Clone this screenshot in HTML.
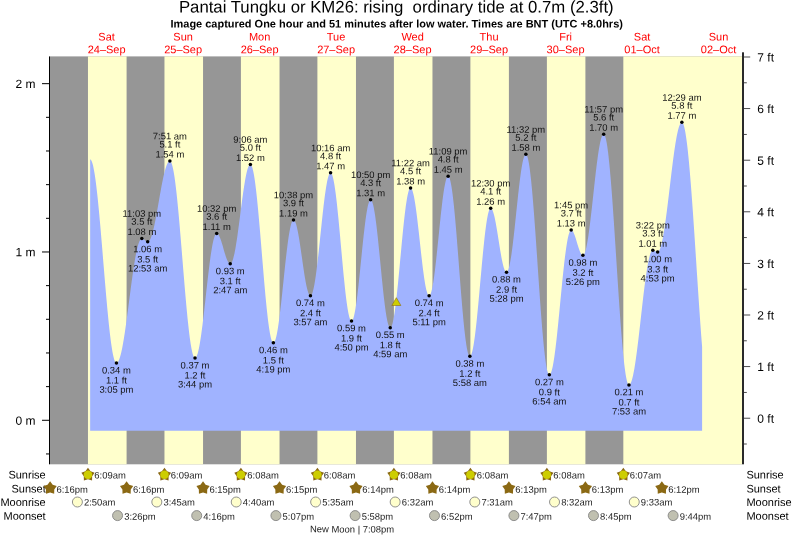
<!DOCTYPE html><html><head><meta charset="utf-8"><title>Pantai Tungku or KM26 tide times</title>
<style>html,body{margin:0;padding:0;background:#fff}svg{display:block;will-change:transform;opacity:0.999}text{text-rendering:geometricPrecision;font-family:"Liberation Sans",sans-serif;fill:#000}.t{font-size:9.45px;text-anchor:middle;fill:#111}.s{font-size:9.45px;fill:#222}.d{font-size:11px;fill:#ff0000;text-anchor:middle}.ax{font-size:12px}.r{font-size:11px}</style></head><body>
<svg width="793" height="538" viewBox="0 0 793 538">
<rect width="793" height="538" fill="#fff"/>
<rect x="50" y="56.4" width="692" height="407.90000000000003" fill="#969696"/>
<rect x="87.97" y="56.4" width="38.62" height="407.90000000000003" fill="#ffffcc"/>
<rect x="164.47" y="56.4" width="38.57" height="407.90000000000003" fill="#ffffcc"/>
<rect x="240.91" y="56.4" width="38.62" height="407.90000000000003" fill="#ffffcc"/>
<rect x="317.40" y="56.4" width="38.57" height="407.90000000000003" fill="#ffffcc"/>
<rect x="393.90" y="56.4" width="38.57" height="407.90000000000003" fill="#ffffcc"/>
<rect x="470.39" y="56.4" width="38.51" height="407.90000000000003" fill="#ffffcc"/>
<rect x="546.89" y="56.4" width="38.51" height="407.90000000000003" fill="#ffffcc"/>
<rect x="623.33" y="56.4" width="118.67" height="407.90000000000003" fill="#ffffcc"/>
<path d="M90.15,430.7L90.15,159.40L90.59,159.57L91.02,160.02L91.46,160.74L91.90,161.74L92.33,163.01L92.77,164.54L93.21,166.33L93.65,168.39L94.08,170.69L94.52,173.24L94.96,176.03L95.39,179.05L95.83,182.30L96.27,185.76L96.70,189.42L97.14,193.28L97.58,197.32L98.02,201.54L98.45,205.91L98.89,210.44L99.33,215.11L99.76,219.90L100.20,224.81L100.64,229.81L101.08,234.90L101.51,240.06L101.95,245.27L102.39,250.53L102.82,255.82L103.26,261.13L103.70,266.43L104.14,271.72L104.57,276.98L105.01,282.20L105.45,287.36L105.88,292.46L106.32,297.46L106.76,302.37L107.20,307.17L107.63,311.84L108.07,316.37L108.51,320.76L108.94,324.98L109.38,329.03L109.82,332.89L110.26,336.56L110.69,340.03L111.13,343.28L111.57,346.31L112.00,349.11L112.44,351.67L112.88,353.98L113.32,356.05L113.75,357.85L114.19,359.39L114.63,360.67L115.06,361.68L115.50,362.41L115.94,362.87L116.37,363.05L116.81,362.99L117.25,362.75L117.69,362.32L118.12,361.72L118.56,360.93L119.00,359.97L119.43,358.84L119.87,357.54L120.31,356.07L120.75,354.44L121.18,352.66L121.62,350.72L122.06,348.63L122.49,346.41L122.93,344.05L123.37,341.57L123.81,338.97L124.24,336.25L124.68,333.43L125.12,330.52L125.55,327.52L125.99,324.44L126.43,321.29L126.87,318.08L127.30,314.82L127.74,311.52L128.18,308.19L128.61,304.84L129.05,301.47L129.49,298.10L129.93,294.74L130.36,291.40L130.80,288.09L131.24,284.81L131.67,281.58L132.11,278.41L132.55,275.30L132.99,272.26L133.42,269.31L133.86,266.45L134.30,263.70L134.73,261.05L135.17,258.51L135.61,256.10L136.05,253.82L136.48,251.68L136.92,249.68L137.36,247.83L137.79,246.14L138.23,244.60L138.67,243.23L139.10,242.03L139.54,241.00L139.98,240.14L140.42,239.46L140.85,238.97L141.29,238.65L141.73,238.51L142.16,238.53L142.60,238.65L143.04,238.84L143.48,239.12L143.91,239.45L144.35,239.82L144.79,240.21L145.22,240.61L145.66,240.97L146.10,241.30L146.54,241.56L146.97,241.75L147.41,241.85L147.85,241.86L148.28,241.72L148.72,241.43L149.16,240.99L149.60,240.40L150.03,239.65L150.47,238.77L150.91,237.73L151.34,236.57L151.78,235.26L152.22,233.83L152.66,232.27L153.09,230.60L153.53,228.81L153.97,226.92L154.40,224.93L154.84,222.86L155.28,220.70L155.72,218.46L156.15,216.17L156.59,213.81L157.03,211.41L157.46,208.97L157.90,206.50L158.34,204.02L158.78,201.52L159.21,199.02L159.65,196.54L160.09,194.07L160.52,191.63L160.96,189.23L161.40,186.87L161.83,184.57L162.27,182.34L162.71,180.17L163.15,178.09L163.58,176.10L164.02,174.21L164.46,172.42L164.89,170.74L165.33,169.18L165.77,167.74L166.21,166.43L166.64,165.26L167.08,164.22L167.52,163.33L167.95,162.58L168.39,161.98L168.83,161.53L169.27,161.24L169.70,161.10L170.14,161.13L170.58,161.45L171.01,162.06L171.45,162.96L171.89,164.15L172.33,165.63L172.76,167.39L173.20,169.42L173.64,171.72L174.07,174.28L174.51,177.10L174.95,180.16L175.39,183.46L175.82,186.99L176.26,190.73L176.70,194.68L177.13,198.83L177.57,203.15L178.01,207.64L178.45,212.29L178.88,217.08L179.32,222.00L179.76,227.03L180.19,232.15L180.63,237.36L181.07,242.63L181.51,247.96L181.94,253.31L182.38,258.69L182.82,264.07L183.25,269.44L183.69,274.77L184.13,280.06L184.56,285.29L185.00,290.45L185.44,295.51L185.88,300.46L186.31,305.29L186.75,309.99L187.19,314.53L187.62,318.91L188.06,323.11L188.50,327.12L188.94,330.94L189.37,334.53L189.81,337.91L190.25,341.05L190.68,343.94L191.12,346.59L191.56,348.97L192.00,351.09L192.43,352.93L192.87,354.50L193.31,355.78L193.74,356.77L194.18,357.48L194.62,357.89L195.06,358.00L195.49,357.85L195.93,357.45L196.37,356.81L196.80,355.92L197.24,354.78L197.68,353.41L198.12,351.81L198.55,349.98L198.99,347.94L199.43,345.68L199.86,343.23L200.30,340.58L200.74,337.76L201.18,334.76L201.61,331.61L202.05,328.32L202.49,324.89L202.92,321.35L203.36,317.70L203.80,313.97L204.23,310.16L204.67,306.30L205.11,302.39L205.55,298.46L205.98,294.51L206.42,290.57L206.86,286.65L207.29,282.77L207.73,278.94L208.17,275.18L208.61,271.50L209.04,267.91L209.48,264.44L209.92,261.09L210.35,257.89L210.79,254.83L211.23,251.94L211.67,249.22L212.10,246.70L212.54,244.36L212.98,242.24L213.41,240.33L213.85,238.64L214.29,237.18L214.73,235.95L215.16,234.97L215.60,234.23L216.04,233.73L216.47,233.49L216.91,233.48L217.35,233.63L217.79,233.95L218.22,234.41L218.66,235.02L219.10,235.76L219.53,236.64L219.97,237.65L220.41,238.76L220.85,239.98L221.28,241.28L221.72,242.66L222.16,244.10L222.59,245.59L223.03,247.10L223.47,248.64L223.91,250.17L224.34,251.69L224.78,253.17L225.22,254.61L225.65,255.99L226.09,257.29L226.53,258.50L226.96,259.61L227.40,260.61L227.84,261.48L228.28,262.22L228.71,262.82L229.15,263.28L229.59,263.58L230.02,263.73L230.46,263.72L230.90,263.48L231.34,263.02L231.77,262.32L232.21,261.40L232.65,260.26L233.08,258.91L233.52,257.35L233.96,255.59L234.40,253.63L234.83,251.49L235.27,249.18L235.71,246.70L236.14,244.07L236.58,241.31L237.02,238.41L237.46,235.41L237.89,232.30L238.33,229.11L238.77,225.85L239.20,222.53L239.64,219.18L240.08,215.80L240.52,212.41L240.95,209.04L241.39,205.68L241.83,202.37L242.26,199.11L242.70,195.91L243.14,192.81L243.58,189.80L244.01,186.91L244.45,184.14L244.89,181.51L245.32,179.03L245.76,176.72L246.20,174.58L246.64,172.62L247.07,170.86L247.51,169.30L247.95,167.94L248.38,166.80L248.82,165.88L249.26,165.19L249.69,164.72L250.13,164.48L250.57,164.48L251.01,164.79L251.44,165.42L251.88,166.35L252.32,167.60L252.75,169.16L253.19,171.02L253.63,173.17L254.07,175.61L254.50,178.33L254.94,181.31L255.38,184.55L255.81,188.04L256.25,191.77L256.69,195.71L257.13,199.86L257.56,204.20L258.00,208.72L258.44,213.40L258.87,218.22L259.31,223.17L259.75,228.22L260.19,233.37L260.62,238.59L261.06,243.86L261.50,249.17L261.93,254.49L262.37,259.81L262.81,265.11L263.25,270.37L263.68,275.57L264.12,280.69L264.56,285.71L264.99,290.62L265.43,295.40L265.87,300.03L266.31,304.49L266.74,308.78L267.18,312.86L267.62,316.74L268.05,320.39L268.49,323.80L268.93,326.96L269.36,329.87L269.80,332.50L270.24,334.85L270.68,336.91L271.11,338.67L271.55,340.13L271.99,341.28L272.42,342.12L272.86,342.65L273.30,342.85L273.74,342.75L274.17,342.37L274.61,341.70L275.05,340.75L275.48,339.53L275.92,338.04L276.36,336.28L276.80,334.27L277.23,332.01L277.67,329.51L278.11,326.80L278.54,323.87L278.98,320.74L279.42,317.44L279.86,313.96L280.29,310.33L280.73,306.57L281.17,302.69L281.60,298.71L282.04,294.66L282.48,290.54L282.92,286.37L283.35,282.19L283.79,278.00L284.23,273.83L284.66,269.69L285.10,265.61L285.54,261.60L285.98,257.68L286.41,253.88L286.85,250.20L287.29,246.67L287.72,243.29L288.16,240.10L288.60,237.10L289.04,234.30L289.47,231.72L289.91,229.38L290.35,227.28L290.78,225.42L291.22,223.83L291.66,222.51L292.09,221.46L292.53,220.69L292.97,220.20L293.41,220.00L293.84,220.07L294.28,220.39L294.72,220.95L295.15,221.76L295.59,222.81L296.03,224.08L296.47,225.58L296.90,227.29L297.34,229.19L297.78,231.29L298.21,233.56L298.65,235.99L299.09,238.57L299.53,241.27L299.96,244.08L300.40,246.98L300.84,249.95L301.27,252.98L301.71,256.03L302.15,259.10L302.59,262.16L303.02,265.19L303.46,268.18L303.90,271.09L304.33,273.92L304.77,276.64L305.21,279.24L305.65,281.70L306.08,284.01L306.52,286.14L306.96,288.09L307.39,289.83L307.83,291.37L308.27,292.69L308.71,293.78L309.14,294.63L309.58,295.24L310.02,295.61L310.45,295.73L310.89,295.58L311.33,295.15L311.77,294.43L312.20,293.44L312.64,292.16L313.08,290.62L313.51,288.82L313.95,286.77L314.39,284.47L314.82,281.93L315.26,279.18L315.70,276.21L316.14,273.06L316.57,269.72L317.01,266.21L317.45,262.56L317.88,258.78L318.32,254.88L318.76,250.89L319.20,246.82L319.63,242.69L320.07,238.52L320.51,234.34L320.94,230.15L321.38,225.98L321.82,221.85L322.26,217.78L322.69,213.79L323.13,209.89L323.57,206.10L324.00,202.45L324.44,198.94L324.88,195.60L325.32,192.44L325.75,189.47L326.19,186.71L326.63,184.17L327.06,181.87L327.50,179.81L327.94,178.00L328.38,176.46L328.81,175.18L329.25,174.18L329.69,173.46L330.12,173.02L330.56,172.86L331.00,173.01L331.44,173.48L331.87,174.26L332.31,175.35L332.75,176.75L333.18,178.46L333.62,180.46L334.06,182.74L334.50,185.30L334.93,188.13L335.37,191.21L335.81,194.52L336.24,198.07L336.68,201.82L337.12,205.77L337.55,209.90L337.99,214.18L338.43,218.61L338.87,223.15L339.30,227.80L339.74,232.54L340.18,237.33L340.61,242.16L341.05,247.02L341.49,251.88L341.93,256.71L342.36,261.50L342.80,266.23L343.24,270.88L343.67,275.42L344.11,279.84L344.55,284.12L344.99,288.24L345.42,292.18L345.86,295.92L346.30,299.46L346.73,302.77L347.17,305.84L347.61,308.65L348.05,311.20L348.48,313.47L348.92,315.46L349.36,317.15L349.79,318.54L350.23,319.62L350.67,320.39L351.11,320.84L351.54,320.98L351.98,320.80L352.42,320.30L352.85,319.50L353.29,318.40L353.73,316.99L354.17,315.29L354.60,313.31L355.04,311.06L355.48,308.55L355.91,305.79L356.35,302.79L356.79,299.58L357.22,296.16L357.66,292.56L358.10,288.79L358.54,284.88L358.97,280.84L359.41,276.70L359.85,272.47L360.28,268.18L360.72,263.85L361.16,259.50L361.60,255.15L362.03,250.83L362.47,246.57L362.91,242.37L363.34,238.26L363.78,234.27L364.22,230.42L364.66,226.72L365.09,223.19L365.53,219.85L365.97,216.73L366.40,213.83L366.84,211.16L367.28,208.76L367.72,206.61L368.15,204.75L368.59,203.17L369.03,201.89L369.46,200.90L369.90,200.23L370.34,199.86L370.78,199.81L371.21,200.07L371.65,200.64L372.09,201.53L372.52,202.71L372.96,204.20L373.40,205.98L373.84,208.04L374.27,210.38L374.71,212.98L375.15,215.82L375.58,218.90L376.02,222.21L376.46,225.71L376.90,229.40L377.33,233.26L377.77,237.27L378.21,241.42L378.64,245.67L379.08,250.00L379.52,254.41L379.95,258.86L380.39,263.34L380.83,267.82L381.27,272.27L381.70,276.69L382.14,281.04L382.58,285.31L383.01,289.47L383.45,293.51L383.89,297.40L384.33,301.12L384.76,304.66L385.20,308.01L385.64,311.13L386.07,314.02L386.51,316.67L386.95,319.05L387.39,321.16L387.82,323.00L388.26,324.54L388.70,325.78L389.13,326.72L389.57,327.35L390.01,327.67L390.45,327.67L390.88,327.36L391.32,326.73L391.76,325.79L392.19,324.53L392.63,322.98L393.07,321.12L393.51,318.98L393.94,316.56L394.38,313.88L394.82,310.93L395.25,307.75L395.69,304.34L396.13,300.72L396.57,296.90L397.00,292.90L397.44,288.75L397.88,284.45L398.31,280.04L398.75,275.52L399.19,270.92L399.63,266.26L400.06,261.57L400.50,256.86L400.94,252.15L401.37,247.47L401.81,242.83L402.25,238.26L402.68,233.79L403.12,229.42L403.56,225.18L404.00,221.09L404.43,217.17L404.87,213.44L405.31,209.90L405.74,206.59L406.18,203.50L406.62,200.67L407.06,198.09L407.49,195.79L407.93,193.77L408.37,192.05L408.80,190.62L409.24,189.50L409.68,188.69L410.12,188.19L410.55,188.01L410.99,188.14L411.43,188.57L411.86,189.28L412.30,190.29L412.74,191.58L413.18,193.14L413.61,194.97L414.05,197.06L414.49,199.40L414.92,201.96L415.36,204.75L415.80,207.74L416.24,210.92L416.67,214.26L417.11,217.76L417.55,221.39L417.98,225.13L418.42,228.97L418.86,232.87L419.30,236.83L419.73,240.81L420.17,244.80L420.61,248.77L421.04,252.70L421.48,256.58L421.92,260.37L422.35,264.06L422.79,267.64L423.23,271.07L423.67,274.33L424.10,277.43L424.54,280.32L424.98,283.01L425.41,285.47L425.85,287.69L426.29,289.66L426.73,291.37L427.16,292.80L427.60,293.96L428.04,294.83L428.47,295.41L428.91,295.70L429.35,295.69L429.79,295.37L430.22,294.74L430.66,293.80L431.10,292.57L431.53,291.03L431.97,289.22L432.41,287.12L432.85,284.76L433.28,282.14L433.72,279.28L434.16,276.20L434.59,272.91L435.03,269.42L435.47,265.76L435.91,261.95L436.34,258.00L436.78,253.93L437.22,249.77L437.65,245.54L438.09,241.26L438.53,236.96L438.97,232.64L439.40,228.35L439.84,224.09L440.28,219.90L440.71,215.79L441.15,211.78L441.59,207.91L442.03,204.17L442.46,200.61L442.90,197.23L443.34,194.05L443.77,191.08L444.21,188.36L444.65,185.88L445.08,183.66L445.52,181.71L445.96,180.05L446.40,178.68L446.83,177.61L447.27,176.84L447.71,176.38L448.14,176.23L448.58,176.42L449.02,176.96L449.46,177.87L449.89,179.12L450.33,180.73L450.77,182.67L451.20,184.95L451.64,187.55L452.08,190.47L452.52,193.69L452.95,197.21L453.39,200.99L453.83,205.04L454.26,209.33L454.70,213.85L455.14,218.58L455.58,223.50L456.01,228.59L456.45,233.83L456.89,239.20L457.32,244.68L457.76,250.24L458.20,255.87L458.64,261.54L459.07,267.23L459.51,272.92L459.95,278.58L460.38,284.19L460.82,289.72L461.26,295.17L461.70,300.50L462.13,305.69L462.57,310.73L463.01,315.58L463.44,320.24L463.88,324.69L464.32,328.90L464.76,332.86L465.19,336.56L465.63,339.97L466.07,343.09L466.50,345.91L466.94,348.40L467.38,350.57L467.81,352.40L468.25,353.89L468.69,355.03L469.13,355.81L469.56,356.24L470.00,356.31L470.44,356.04L470.87,355.46L471.31,354.56L471.75,353.34L472.19,351.82L472.62,349.99L473.06,347.87L473.50,345.46L473.93,342.78L474.37,339.84L474.81,336.64L475.25,333.21L475.68,329.56L476.12,325.70L476.56,321.65L476.99,317.44L477.43,313.06L477.87,308.56L478.31,303.94L478.74,299.23L479.18,294.44L479.62,289.60L480.05,284.73L480.49,279.84L480.93,274.97L481.37,270.13L481.80,265.34L482.24,260.63L482.68,256.01L483.11,251.50L483.55,247.13L483.99,242.91L484.43,238.86L484.86,235.00L485.30,231.35L485.74,227.91L486.17,224.72L486.61,221.77L487.05,219.09L487.49,216.68L487.92,214.56L488.36,212.73L488.80,211.20L489.23,209.98L489.67,209.08L490.11,208.49L490.54,208.23L490.98,208.26L491.42,208.55L491.86,209.07L492.29,209.82L492.73,210.81L493.17,212.01L493.60,213.42L494.04,215.04L494.48,216.85L494.92,218.83L495.35,220.97L495.79,223.26L496.23,225.67L496.66,228.20L497.10,230.81L497.54,233.49L497.98,236.23L498.41,238.99L498.85,241.77L499.29,244.53L499.72,247.26L500.16,249.93L500.60,252.53L501.04,255.04L501.47,257.44L501.91,259.71L502.35,261.83L502.78,263.79L503.22,265.57L503.66,267.16L504.10,268.55L504.53,269.72L504.97,270.67L505.41,271.39L505.84,271.88L506.28,272.13L506.72,272.14L507.16,271.85L507.59,271.27L508.03,270.40L508.47,269.23L508.90,267.79L509.34,266.07L509.78,264.09L510.21,261.85L510.65,259.36L511.09,256.64L511.53,253.71L511.96,250.57L512.40,247.24L512.84,243.74L513.27,240.08L513.71,236.29L514.15,232.39L514.59,228.39L515.02,224.31L515.46,220.17L515.90,216.00L516.33,211.82L516.77,207.65L517.21,203.50L517.65,199.40L518.08,195.37L518.52,191.44L518.96,187.61L519.39,183.91L519.83,180.36L520.27,176.98L520.71,173.77L521.14,170.77L521.58,167.98L522.02,165.42L522.45,163.10L522.89,161.04L523.33,159.24L523.77,157.70L524.20,156.45L524.64,155.49L525.08,154.82L525.51,154.44L525.95,154.36L526.39,154.63L526.83,155.28L527.26,156.31L527.70,157.70L528.14,159.46L528.57,161.58L529.01,164.05L529.45,166.86L529.89,170.01L530.32,173.48L530.76,177.27L531.20,181.35L531.63,185.72L532.07,190.35L532.51,195.24L532.94,200.37L533.38,205.72L533.82,211.27L534.26,217.00L534.69,222.89L535.13,228.93L535.57,235.09L536.00,241.35L536.44,247.69L536.88,254.08L537.32,260.52L537.75,266.96L538.19,273.40L538.63,279.81L539.06,286.17L539.50,292.45L539.94,298.64L540.38,304.71L540.81,310.64L541.25,316.42L541.69,322.02L542.12,327.42L542.56,332.61L543.00,337.56L543.44,342.27L543.87,346.71L544.31,350.87L544.75,354.73L545.18,358.29L545.62,361.52L546.06,364.43L546.50,366.99L546.93,369.20L547.37,371.06L547.81,372.55L548.24,373.67L548.68,374.42L549.12,374.79L549.56,374.80L549.99,374.51L550.43,373.94L550.87,373.08L551.30,371.94L551.74,370.53L552.18,368.85L552.62,366.91L553.05,364.71L553.49,362.27L553.93,359.59L554.36,356.68L554.80,353.56L555.24,350.24L555.67,346.73L556.11,343.04L556.55,339.20L556.99,335.21L557.42,331.08L557.86,326.85L558.30,322.52L558.73,318.11L559.17,313.63L559.61,309.12L560.05,304.57L560.48,300.02L560.92,295.48L561.36,290.97L561.79,286.50L562.23,282.09L562.67,277.77L563.11,273.54L563.54,269.43L563.98,265.45L564.42,261.61L564.85,257.94L565.29,254.44L565.73,251.13L566.17,248.02L566.60,245.13L567.04,242.47L567.48,240.05L567.91,237.87L568.35,235.94L568.79,234.28L569.23,232.89L569.66,231.78L570.10,230.94L570.54,230.39L570.97,230.12L571.41,230.12L571.85,230.30L572.29,230.65L572.72,231.17L573.16,231.84L573.60,232.67L574.03,233.63L574.47,234.71L574.91,235.91L575.34,237.20L575.78,238.56L576.22,239.98L576.66,241.44L577.09,242.91L577.53,244.38L577.97,245.83L578.40,247.24L578.84,248.58L579.28,249.85L579.72,251.01L580.15,252.07L580.59,252.99L581.03,253.78L581.46,254.41L581.90,254.88L582.34,255.19L582.78,255.33L583.21,255.27L583.65,254.95L584.09,254.37L584.52,253.53L584.96,252.43L585.40,251.08L585.84,249.48L586.27,247.64L586.71,245.58L587.15,243.29L587.58,240.78L588.02,238.08L588.46,235.19L588.90,232.12L589.33,228.89L589.77,225.51L590.21,221.99L590.64,218.36L591.08,214.62L591.52,210.79L591.96,206.90L592.39,202.95L592.83,198.96L593.27,194.96L593.70,190.96L594.14,186.97L594.58,183.02L595.02,179.12L595.45,175.28L595.89,171.53L596.33,167.89L596.76,164.36L597.20,160.96L597.64,157.71L598.07,154.62L598.51,151.71L598.95,148.99L599.39,146.46L599.82,144.15L600.26,142.06L600.70,140.20L601.13,138.57L601.57,137.19L602.01,136.07L602.45,135.20L602.88,134.59L603.32,134.24L603.76,134.16L604.19,134.41L604.63,135.04L605.07,136.03L605.51,137.38L605.94,139.10L606.38,141.17L606.82,143.58L607.25,146.34L607.69,149.44L608.13,152.86L608.57,156.59L609.00,160.63L609.44,164.96L609.88,169.57L610.31,174.44L610.75,179.56L611.19,184.92L611.63,190.50L612.06,196.29L612.50,202.26L612.94,208.40L613.37,214.69L613.81,221.11L614.25,227.64L614.69,234.27L615.12,240.98L615.56,247.74L616.00,254.53L616.43,261.34L616.87,268.14L617.31,274.92L617.75,281.65L618.18,288.32L618.62,294.90L619.06,301.38L619.49,307.73L619.93,313.95L620.37,320.00L620.80,325.87L621.24,331.55L621.68,337.02L622.12,342.25L622.55,347.25L622.99,351.98L623.43,356.45L623.86,360.62L624.30,364.50L624.74,368.07L625.18,371.32L625.61,374.24L626.05,376.82L626.49,379.06L626.92,380.94L627.36,382.47L627.80,383.63L628.24,384.43L628.67,384.85L629.11,384.92L629.55,384.73L629.98,384.32L630.42,383.69L630.86,382.84L631.30,381.78L631.73,380.50L632.17,379.01L632.61,377.32L633.04,375.43L633.48,373.35L633.92,371.09L634.36,368.65L634.79,366.04L635.23,363.26L635.67,360.34L636.10,357.28L636.54,354.08L636.98,350.76L637.42,347.34L637.85,343.81L638.29,340.20L638.73,336.51L639.16,332.76L639.60,328.96L640.04,325.13L640.48,321.26L640.91,317.39L641.35,313.52L641.79,309.66L642.22,305.82L642.66,302.03L643.10,298.29L643.53,294.61L643.97,291.00L644.41,287.49L644.85,284.07L645.28,280.77L645.72,277.59L646.16,274.54L646.59,271.63L647.03,268.88L647.47,266.29L647.91,263.87L648.34,261.62L648.78,259.56L649.22,257.70L649.65,256.03L650.09,254.57L650.53,253.31L650.97,252.27L651.40,251.44L651.84,250.84L652.28,250.45L652.71,250.29L653.15,250.31L653.59,250.39L654.03,250.53L654.46,250.73L654.90,250.95L655.34,251.19L655.77,251.42L656.21,251.63L656.65,251.80L657.09,251.91L657.52,251.97L657.96,251.92L658.40,251.66L658.83,251.20L659.27,250.54L659.71,249.67L660.15,248.60L660.58,247.33L661.02,245.87L661.46,244.22L661.89,242.39L662.33,240.38L662.77,238.20L663.20,235.85L663.64,233.35L664.08,230.70L664.52,227.91L664.95,224.99L665.39,221.95L665.83,218.80L666.26,215.54L666.70,212.19L667.14,208.77L667.58,205.27L668.01,201.72L668.45,198.11L668.89,194.48L669.32,190.82L669.76,187.15L670.20,183.48L670.64,179.82L671.07,176.18L671.51,172.58L671.95,169.03L672.38,165.53L672.82,162.10L673.26,158.76L673.70,155.50L674.13,152.35L674.57,149.31L675.01,146.39L675.44,143.60L675.88,140.96L676.32,138.46L676.76,136.11L677.19,133.94L677.63,131.93L678.07,130.10L678.50,128.45L678.94,126.99L679.38,125.73L679.82,124.66L680.25,123.79L680.69,123.13L681.13,122.67L681.56,122.42L682.00,122.39L682.44,122.64L682.88,123.21L683.31,124.10L683.75,125.30L684.19,126.82L684.62,128.64L685.06,130.77L685.50,133.19L685.93,135.91L686.37,138.92L686.81,142.21L687.25,145.77L687.68,149.60L688.12,153.69L688.56,158.02L688.99,162.60L689.43,167.40L689.87,172.42L690.31,177.64L690.74,183.06L691.18,188.66L691.62,194.43L692.05,200.35L692.49,206.42L692.93,212.62L693.37,218.94L693.80,225.35L694.24,231.86L694.68,238.43L695.11,245.07L695.55,251.74L695.99,258.45L696.43,265.17L696.86,271.88L697.30,278.58L697.74,285.24L698.17,291.86L698.61,298.42L699.05,304.90L699.49,311.29L699.92,317.57L700.36,323.73L700.80,329.76L701.23,335.64L701.67,341.36L702.11,346.91L702.11,430.7Z" fill="#a0b3ff"/>
<rect x="49" y="56.4" width="1" height="407.90000000000003" fill="#000"/>
<rect x="742" y="52.3" width="2" height="412.0" fill="#2a2a2a"/>
<rect x="46" y="453.44" width="3" height="1" fill="#000"/>
<rect x="42" y="419.78" width="7" height="1" fill="#000"/>
<text class="ax" x="35.6" y="424.68" text-anchor="end" transform="rotate(0.03 35.6 424.68)">0 m</text>
<rect x="46" y="386.12" width="3" height="1" fill="#000"/>
<rect x="46" y="352.46" width="3" height="1" fill="#000"/>
<rect x="46" y="318.79" width="3" height="1" fill="#000"/>
<rect x="46" y="285.13" width="3" height="1" fill="#000"/>
<rect x="42" y="251.47" width="7" height="1" fill="#000"/>
<text class="ax" x="35.6" y="256.37" text-anchor="end" transform="rotate(0.03 35.6 256.37)">1 m</text>
<rect x="46" y="217.81" width="3" height="1" fill="#000"/>
<rect x="46" y="184.15" width="3" height="1" fill="#000"/>
<rect x="46" y="150.48" width="3" height="1" fill="#000"/>
<rect x="46" y="116.82" width="3" height="1" fill="#000"/>
<rect x="42" y="83.16" width="7" height="1" fill="#000"/>
<text class="ax" x="35.6" y="88.06" text-anchor="end" transform="rotate(0.03 35.6 88.06)">2 m</text>
<rect x="744" y="443.55" width="2.8" height="0.9" fill="#3a3a3a"/>
<rect x="744" y="417.75" width="6.2" height="0.9" fill="#3a3a3a"/>
<text class="ax" x="757.3" y="422.70" transform="rotate(0.03 757.3 422.70)">0 ft</text>
<rect x="744" y="391.95" width="2.8" height="0.9" fill="#3a3a3a"/>
<rect x="744" y="366.15" width="6.2" height="0.9" fill="#3a3a3a"/>
<text class="ax" x="757.3" y="371.10" transform="rotate(0.03 757.3 371.10)">1 ft</text>
<rect x="744" y="340.35" width="2.8" height="0.9" fill="#3a3a3a"/>
<rect x="744" y="314.55" width="6.2" height="0.9" fill="#3a3a3a"/>
<text class="ax" x="757.3" y="319.50" transform="rotate(0.03 757.3 319.50)">2 ft</text>
<rect x="744" y="288.75" width="2.8" height="0.9" fill="#3a3a3a"/>
<rect x="744" y="262.95" width="6.2" height="0.9" fill="#3a3a3a"/>
<text class="ax" x="757.3" y="267.90" transform="rotate(0.03 757.3 267.90)">3 ft</text>
<rect x="744" y="237.15" width="2.8" height="0.9" fill="#3a3a3a"/>
<rect x="744" y="211.35" width="6.2" height="0.9" fill="#3a3a3a"/>
<text class="ax" x="757.3" y="216.30" transform="rotate(0.03 757.3 216.30)">4 ft</text>
<rect x="744" y="185.55" width="2.8" height="0.9" fill="#3a3a3a"/>
<rect x="744" y="159.75" width="6.2" height="0.9" fill="#3a3a3a"/>
<text class="ax" x="757.3" y="164.70" transform="rotate(0.03 757.3 164.70)">5 ft</text>
<rect x="744" y="133.95" width="2.8" height="0.9" fill="#3a3a3a"/>
<rect x="744" y="108.15" width="6.2" height="0.9" fill="#3a3a3a"/>
<text class="ax" x="757.3" y="113.10" transform="rotate(0.03 757.3 113.10)">6 ft</text>
<rect x="744" y="82.35" width="2.8" height="0.9" fill="#3a3a3a"/>
<rect x="744" y="56.55" width="6.2" height="0.9" fill="#3a3a3a"/>
<text class="ax" x="757.3" y="61.50" transform="rotate(0.03 757.3 61.50)">7 ft</text>
<text x="396.3" y="12.5" text-anchor="middle" font-size="16.75" xml:space="preserve" style="white-space:pre" transform="rotate(0.03 396.3 12.5)">Pantai Tungku or KM26: rising  ordinary tide at 0.7m (2.3ft)</text>
<text x="396.7" y="27.5" text-anchor="middle" font-size="10.98" font-weight="bold" transform="rotate(0.03 396.7 27.5)">Image captured One hour and 51 minutes after low water. Times are BNT (UTC +8.0hrs)</text>
<text class="d" x="106.62" y="40.4" transform="rotate(0.03 106.62 40.4)">Sat</text>
<text class="d" x="106.62" y="53.2" transform="rotate(0.03 106.62 53.2)">24–Sep</text>
<text class="d" x="183.11" y="40.4" transform="rotate(0.03 183.11 40.4)">Sun</text>
<text class="d" x="183.11" y="53.2" transform="rotate(0.03 183.11 53.2)">25–Sep</text>
<text class="d" x="259.61" y="40.4" transform="rotate(0.03 259.61 40.4)">Mon</text>
<text class="d" x="259.61" y="53.2" transform="rotate(0.03 259.61 53.2)">26–Sep</text>
<text class="d" x="336.10" y="40.4" transform="rotate(0.03 336.10 40.4)">Tue</text>
<text class="d" x="336.10" y="53.2" transform="rotate(0.03 336.10 53.2)">27–Sep</text>
<text class="d" x="412.60" y="40.4" transform="rotate(0.03 412.60 40.4)">Wed</text>
<text class="d" x="412.60" y="53.2" transform="rotate(0.03 412.60 53.2)">28–Sep</text>
<text class="d" x="489.09" y="40.4" transform="rotate(0.03 489.09 40.4)">Thu</text>
<text class="d" x="489.09" y="53.2" transform="rotate(0.03 489.09 53.2)">29–Sep</text>
<text class="d" x="565.59" y="40.4" transform="rotate(0.03 565.59 40.4)">Fri</text>
<text class="d" x="565.59" y="53.2" transform="rotate(0.03 565.59 53.2)">30–Sep</text>
<text class="d" x="642.08" y="40.4" transform="rotate(0.03 642.08 40.4)">Sat</text>
<text class="d" x="642.08" y="53.2" transform="rotate(0.03 642.08 53.2)">01–Oct</text>
<text class="d" x="718.58" y="40.4" transform="rotate(0.03 718.58 40.4)">Sun</text>
<text class="d" x="718.58" y="53.2" transform="rotate(0.03 718.58 53.2)">02–Oct</text>
<circle cx="116.44" cy="363.05" r="1.75" fill="#000"/>
<text class="t" x="116.44" y="373.45" transform="rotate(0.03 116.44 373.45)">0.34 m</text>
<text class="t" x="116.44" y="383.60" transform="rotate(0.03 116.44 383.60)">1.1 ft</text>
<text class="t" x="116.44" y="392.65" transform="rotate(0.03 116.44 392.65)">3:05 pm</text>
<circle cx="141.84" cy="238.51" r="1.75" fill="#000"/>
<text class="t" x="141.84" y="216.81" transform="rotate(0.03 141.84 216.81)">11:03 pm</text>
<text class="t" x="141.84" y="224.86" transform="rotate(0.03 141.84 224.86)">3.5 ft</text>
<text class="t" x="141.84" y="235.01" transform="rotate(0.03 141.84 235.01)">1.08 m</text>
<circle cx="147.68" cy="241.87" r="1.75" fill="#000"/>
<text class="t" x="147.68" y="252.27" transform="rotate(0.03 147.68 252.27)">1.06 m</text>
<text class="t" x="147.68" y="262.42" transform="rotate(0.03 147.68 262.42)">3.5 ft</text>
<text class="t" x="147.68" y="271.47" transform="rotate(0.03 147.68 271.47)">12:53 am</text>
<circle cx="169.89" cy="161.08" r="1.75" fill="#000"/>
<text class="t" x="169.89" y="139.38" transform="rotate(0.03 169.89 139.38)">7:51 am</text>
<text class="t" x="169.89" y="147.43" transform="rotate(0.03 169.89 147.43)">5.1 ft</text>
<text class="t" x="169.89" y="157.58" transform="rotate(0.03 169.89 157.58)">1.54 m</text>
<circle cx="195.01" cy="358.01" r="1.75" fill="#000"/>
<text class="t" x="195.01" y="368.41" transform="rotate(0.03 195.01 368.41)">0.37 m</text>
<text class="t" x="195.01" y="378.56" transform="rotate(0.03 195.01 378.56)">1.2 ft</text>
<text class="t" x="195.01" y="387.61" transform="rotate(0.03 195.01 387.61)">3:44 pm</text>
<circle cx="216.69" cy="233.46" r="1.75" fill="#000"/>
<text class="t" x="216.69" y="211.76" transform="rotate(0.03 216.69 211.76)">10:32 pm</text>
<text class="t" x="216.69" y="219.81" transform="rotate(0.03 216.69 219.81)">3.6 ft</text>
<text class="t" x="216.69" y="229.96" transform="rotate(0.03 216.69 229.96)">1.11 m</text>
<circle cx="230.23" cy="263.75" r="1.75" fill="#000"/>
<text class="t" x="230.23" y="274.15" transform="rotate(0.03 230.23 274.15)">0.93 m</text>
<text class="t" x="230.23" y="284.30" transform="rotate(0.03 230.23 284.30)">3.1 ft</text>
<text class="t" x="230.23" y="293.35" transform="rotate(0.03 230.23 293.35)">2:47 am</text>
<circle cx="250.36" cy="164.45" r="1.75" fill="#000"/>
<text class="t" x="250.36" y="142.75" transform="rotate(0.03 250.36 142.75)">9:06 am</text>
<text class="t" x="250.36" y="150.80" transform="rotate(0.03 250.36 150.80)">5.0 ft</text>
<text class="t" x="250.36" y="160.95" transform="rotate(0.03 250.36 160.95)">1.52 m</text>
<circle cx="273.37" cy="342.86" r="1.75" fill="#000"/>
<text class="t" x="273.37" y="353.26" transform="rotate(0.03 273.37 353.26)">0.46 m</text>
<text class="t" x="273.37" y="363.41" transform="rotate(0.03 273.37 363.41)">1.5 ft</text>
<text class="t" x="273.37" y="372.46" transform="rotate(0.03 273.37 372.46)">4:19 pm</text>
<circle cx="293.50" cy="219.99" r="1.75" fill="#000"/>
<text class="t" x="293.50" y="198.29" transform="rotate(0.03 293.50 198.29)">10:38 pm</text>
<text class="t" x="293.50" y="206.34" transform="rotate(0.03 293.50 206.34)">3.9 ft</text>
<text class="t" x="293.50" y="216.49" transform="rotate(0.03 293.50 216.49)">1.19 m</text>
<circle cx="310.44" cy="295.73" r="1.75" fill="#000"/>
<text class="t" x="310.44" y="306.13" transform="rotate(0.03 310.44 306.13)">0.74 m</text>
<text class="t" x="310.44" y="316.28" transform="rotate(0.03 310.44 316.28)">2.4 ft</text>
<text class="t" x="310.44" y="325.33" transform="rotate(0.03 310.44 325.33)">3:57 am</text>
<circle cx="330.58" cy="172.86" r="1.75" fill="#000"/>
<text class="t" x="330.58" y="151.16" transform="rotate(0.03 330.58 151.16)">10:16 am</text>
<text class="t" x="330.58" y="159.21" transform="rotate(0.03 330.58 159.21)">4.8 ft</text>
<text class="t" x="330.58" y="169.36" transform="rotate(0.03 330.58 169.36)">1.47 m</text>
<circle cx="351.51" cy="320.98" r="1.75" fill="#000"/>
<text class="t" x="351.51" y="331.38" transform="rotate(0.03 351.51 331.38)">0.59 m</text>
<text class="t" x="351.51" y="341.53" transform="rotate(0.03 351.51 341.53)">1.9 ft</text>
<text class="t" x="351.51" y="350.58" transform="rotate(0.03 351.51 350.58)">4:50 pm</text>
<circle cx="370.63" cy="199.79" r="1.75" fill="#000"/>
<text class="t" x="370.63" y="178.09" transform="rotate(0.03 370.63 178.09)">10:50 pm</text>
<text class="t" x="370.63" y="186.14" transform="rotate(0.03 370.63 186.14)">4.3 ft</text>
<text class="t" x="370.63" y="196.29" transform="rotate(0.03 370.63 196.29)">1.31 m</text>
<circle cx="390.23" cy="327.71" r="1.75" fill="#000"/>
<text class="t" x="390.23" y="338.11" transform="rotate(0.03 390.23 338.11)">0.55 m</text>
<text class="t" x="390.23" y="348.26" transform="rotate(0.03 390.23 348.26)">1.8 ft</text>
<text class="t" x="390.23" y="357.31" transform="rotate(0.03 390.23 357.31)">4:59 am</text>
<circle cx="410.58" cy="188.01" r="1.75" fill="#000"/>
<text class="t" x="410.58" y="166.31" transform="rotate(0.03 410.58 166.31)">11:22 am</text>
<text class="t" x="410.58" y="174.36" transform="rotate(0.03 410.58 174.36)">4.5 ft</text>
<text class="t" x="410.58" y="184.51" transform="rotate(0.03 410.58 184.51)">1.38 m</text>
<circle cx="429.12" cy="295.73" r="1.75" fill="#000"/>
<text class="t" x="429.12" y="306.13" transform="rotate(0.03 429.12 306.13)">0.74 m</text>
<text class="t" x="429.12" y="316.28" transform="rotate(0.03 429.12 316.28)">2.4 ft</text>
<text class="t" x="429.12" y="325.33" transform="rotate(0.03 429.12 325.33)">5:11 pm</text>
<circle cx="448.14" cy="176.23" r="1.75" fill="#000"/>
<text class="t" x="448.14" y="154.53" transform="rotate(0.03 448.14 154.53)">11:09 pm</text>
<text class="t" x="448.14" y="162.58" transform="rotate(0.03 448.14 162.58)">4.8 ft</text>
<text class="t" x="448.14" y="172.73" transform="rotate(0.03 448.14 172.73)">1.45 m</text>
<circle cx="469.86" cy="356.32" r="1.75" fill="#000"/>
<text class="t" x="469.86" y="366.72" transform="rotate(0.03 469.86 366.72)">0.38 m</text>
<text class="t" x="469.86" y="376.87" transform="rotate(0.03 469.86 376.87)">1.2 ft</text>
<text class="t" x="469.86" y="385.92" transform="rotate(0.03 469.86 385.92)">5:58 am</text>
<circle cx="490.69" cy="208.21" r="1.75" fill="#000"/>
<text class="t" x="490.69" y="186.51" transform="rotate(0.03 490.69 186.51)">12:30 pm</text>
<text class="t" x="490.69" y="194.56" transform="rotate(0.03 490.69 194.56)">4.1 ft</text>
<text class="t" x="490.69" y="204.71" transform="rotate(0.03 490.69 204.71)">1.26 m</text>
<circle cx="506.52" cy="272.17" r="1.75" fill="#000"/>
<text class="t" x="506.52" y="282.57" transform="rotate(0.03 506.52 282.57)">0.88 m</text>
<text class="t" x="506.52" y="292.72" transform="rotate(0.03 506.52 292.72)">2.9 ft</text>
<text class="t" x="506.52" y="301.77" transform="rotate(0.03 506.52 301.77)">5:28 pm</text>
<circle cx="525.85" cy="154.35" r="1.75" fill="#000"/>
<text class="t" x="525.85" y="132.65" transform="rotate(0.03 525.85 132.65)">11:32 pm</text>
<text class="t" x="525.85" y="140.70" transform="rotate(0.03 525.85 140.70)">5.2 ft</text>
<text class="t" x="525.85" y="150.85" transform="rotate(0.03 525.85 150.85)">1.58 m</text>
<circle cx="549.33" cy="374.84" r="1.75" fill="#000"/>
<text class="t" x="549.33" y="385.24" transform="rotate(0.03 549.33 385.24)">0.27 m</text>
<text class="t" x="549.33" y="395.39" transform="rotate(0.03 549.33 395.39)">0.9 ft</text>
<text class="t" x="549.33" y="404.44" transform="rotate(0.03 549.33 404.44)">6:54 am</text>
<circle cx="571.17" cy="230.09" r="1.75" fill="#000"/>
<text class="t" x="571.17" y="208.39" transform="rotate(0.03 571.17 208.39)">1:45 pm</text>
<text class="t" x="571.17" y="216.44" transform="rotate(0.03 571.17 216.44)">3.7 ft</text>
<text class="t" x="571.17" y="226.59" transform="rotate(0.03 571.17 226.59)">1.13 m</text>
<circle cx="582.91" cy="255.34" r="1.75" fill="#000"/>
<text class="t" x="582.91" y="265.74" transform="rotate(0.03 582.91 265.74)">0.98 m</text>
<text class="t" x="582.91" y="275.89" transform="rotate(0.03 582.91 275.89)">3.2 ft</text>
<text class="t" x="582.91" y="284.94" transform="rotate(0.03 582.91 284.94)">5:26 pm</text>
<circle cx="603.68" cy="134.15" r="1.75" fill="#000"/>
<text class="t" x="603.68" y="112.45" transform="rotate(0.03 603.68 112.45)">11:57 pm</text>
<text class="t" x="603.68" y="120.50" transform="rotate(0.03 603.68 120.50)">5.6 ft</text>
<text class="t" x="603.68" y="130.65" transform="rotate(0.03 603.68 130.65)">1.70 m</text>
<circle cx="628.96" cy="384.93" r="1.75" fill="#000"/>
<text class="t" x="628.96" y="395.33" transform="rotate(0.03 628.96 395.33)">0.21 m</text>
<text class="t" x="628.96" y="405.48" transform="rotate(0.03 628.96 405.48)">0.7 ft</text>
<text class="t" x="628.96" y="414.53" transform="rotate(0.03 628.96 414.53)">7:53 am</text>
<circle cx="652.81" cy="250.29" r="1.75" fill="#000"/>
<text class="t" x="652.81" y="228.59" transform="rotate(0.03 652.81 228.59)">3:22 pm</text>
<text class="t" x="652.81" y="236.64" transform="rotate(0.03 652.81 236.64)">3.3 ft</text>
<text class="t" x="652.81" y="246.79" transform="rotate(0.03 652.81 246.79)">1.01 m</text>
<circle cx="657.65" cy="251.97" r="1.75" fill="#000"/>
<text class="t" x="657.65" y="262.37" transform="rotate(0.03 657.65 262.37)">1.00 m</text>
<text class="t" x="657.65" y="272.52" transform="rotate(0.03 657.65 272.52)">3.3 ft</text>
<text class="t" x="657.65" y="281.57" transform="rotate(0.03 657.65 281.57)">4:53 pm</text>
<circle cx="681.87" cy="122.37" r="1.75" fill="#000"/>
<text class="t" x="681.87" y="100.67" transform="rotate(0.03 681.87 100.67)">12:29 am</text>
<text class="t" x="681.87" y="108.72" transform="rotate(0.03 681.87 108.72)">5.8 ft</text>
<text class="t" x="681.87" y="118.87" transform="rotate(0.03 681.87 118.87)">1.77 m</text>
<path d="M396.35,297.7L400.9,305.5L391.8,305.5Z" fill="#cdcd00" stroke="#8b6914" stroke-width="0.6"/>
<text class="r" x="45.7" y="478.6" text-anchor="end" transform="rotate(0.03 45.7 478.6)">Sunrise</text>
<text class="r" x="746.4" y="478.6" transform="rotate(0.03 746.4 478.6)">Sunrise</text>
<text class="r" x="45.7" y="492.6" text-anchor="end" transform="rotate(0.03 45.7 492.6)">Sunset</text>
<text class="r" x="746.4" y="492.6" transform="rotate(0.03 746.4 492.6)">Sunset</text>
<text class="r" x="45.7" y="506.1" text-anchor="end" transform="rotate(0.03 45.7 506.1)">Moonrise</text>
<text class="r" x="746.4" y="506.1" transform="rotate(0.03 746.4 506.1)">Moonrise</text>
<text class="r" x="45.7" y="519.8" text-anchor="end" transform="rotate(0.03 45.7 519.8)">Moonset</text>
<text class="r" x="746.4" y="519.8" transform="rotate(0.03 746.4 519.8)">Moonset</text>
<polygon points="87.97,467.85 90.56,471.24 94.58,472.65 92.16,476.16 92.06,480.42 87.97,479.20 83.89,480.42 83.79,476.16 81.36,472.65 85.39,471.24" fill="#8b6914"/><circle cx="87.97" cy="474.85" r="4.25" fill="#cdcd00"/>
<text class="s" x="94.37" y="478.4" transform="rotate(0.03 94.37 478.4)">6:09am</text>
<polygon points="164.47,467.85 167.05,471.24 171.08,472.65 168.65,476.16 168.55,480.42 164.47,479.20 160.38,480.42 160.28,476.16 157.86,472.65 161.88,471.24" fill="#8b6914"/><circle cx="164.47" cy="474.85" r="4.25" fill="#cdcd00"/>
<text class="s" x="170.87" y="478.4" transform="rotate(0.03 170.87 478.4)">6:09am</text>
<polygon points="240.91,467.85 243.49,471.24 247.52,472.65 245.09,476.16 244.99,480.42 240.91,479.20 236.82,480.42 236.72,476.16 234.30,472.65 238.32,471.24" fill="#8b6914"/><circle cx="240.91" cy="474.85" r="4.25" fill="#cdcd00"/>
<text class="s" x="247.31" y="478.4" transform="rotate(0.03 247.31 478.4)">6:08am</text>
<polygon points="317.40,467.85 319.99,471.24 324.01,472.65 321.59,476.16 321.49,480.42 317.40,479.20 313.32,480.42 313.22,476.16 310.79,472.65 314.82,471.24" fill="#8b6914"/><circle cx="317.40" cy="474.85" r="4.25" fill="#cdcd00"/>
<text class="s" x="323.80" y="478.4" transform="rotate(0.03 323.80 478.4)">6:08am</text>
<polygon points="393.90,467.85 396.48,471.24 400.51,472.65 398.08,476.16 397.98,480.42 393.90,479.20 389.81,480.42 389.71,476.16 387.29,472.65 391.31,471.24" fill="#8b6914"/><circle cx="393.90" cy="474.85" r="4.25" fill="#cdcd00"/>
<text class="s" x="400.30" y="478.4" transform="rotate(0.03 400.30 478.4)">6:08am</text>
<polygon points="470.39,467.85 472.98,471.24 477.00,472.65 474.58,476.16 474.48,480.42 470.39,479.20 466.31,480.42 466.21,476.16 463.78,472.65 467.81,471.24" fill="#8b6914"/><circle cx="470.39" cy="474.85" r="4.25" fill="#cdcd00"/>
<text class="s" x="476.79" y="478.4" transform="rotate(0.03 476.79 478.4)">6:08am</text>
<polygon points="546.89,467.85 549.47,471.24 553.50,472.65 551.07,476.16 550.97,480.42 546.89,479.20 542.80,480.42 542.70,476.16 540.28,472.65 544.30,471.24" fill="#8b6914"/><circle cx="546.89" cy="474.85" r="4.25" fill="#cdcd00"/>
<text class="s" x="553.29" y="478.4" transform="rotate(0.03 553.29 478.4)">6:08am</text>
<polygon points="623.33,467.85 625.92,471.24 629.94,472.65 627.52,476.16 627.42,480.42 623.33,479.20 619.25,480.42 619.15,476.16 616.72,472.65 620.74,471.24" fill="#8b6914"/><circle cx="623.33" cy="474.85" r="4.25" fill="#cdcd00"/>
<text class="s" x="629.73" y="478.4" transform="rotate(0.03 629.73 478.4)">6:07am</text>
<polygon points="50.10,481.25 52.68,484.64 56.71,486.05 54.28,489.56 54.18,493.82 50.10,492.60 46.01,493.82 45.91,489.56 43.49,486.05 47.51,484.64" fill="#8b6914"/>
<text class="s" x="56.50" y="492.8" transform="rotate(0.03 56.50 492.8)">6:16pm</text>
<polygon points="126.59,481.25 129.18,484.64 133.20,486.05 130.78,489.56 130.68,493.82 126.59,492.60 122.51,493.82 122.41,489.56 119.98,486.05 124.00,484.64" fill="#8b6914"/>
<text class="s" x="132.99" y="492.8" transform="rotate(0.03 132.99 492.8)">6:16pm</text>
<polygon points="203.03,481.25 205.62,484.64 209.64,486.05 207.22,489.56 207.12,493.82 203.03,492.60 198.95,493.82 198.85,489.56 196.42,486.05 200.45,484.64" fill="#8b6914"/>
<text class="s" x="209.43" y="492.8" transform="rotate(0.03 209.43 492.8)">6:15pm</text>
<polygon points="279.53,481.25 282.11,484.64 286.14,486.05 283.71,489.56 283.61,493.82 279.53,492.60 275.44,493.82 275.34,489.56 272.92,486.05 276.94,484.64" fill="#8b6914"/>
<text class="s" x="285.93" y="492.8" transform="rotate(0.03 285.93 492.8)">6:15pm</text>
<polygon points="355.97,481.25 358.56,484.64 362.58,486.05 360.15,489.56 360.06,493.82 355.97,492.60 351.88,493.82 351.79,489.56 349.36,486.05 353.38,484.64" fill="#8b6914"/>
<text class="s" x="362.37" y="492.8" transform="rotate(0.03 362.37 492.8)">6:14pm</text>
<polygon points="432.46,481.25 435.05,484.64 439.07,486.05 436.65,489.56 436.55,493.82 432.46,492.60 428.38,493.82 428.28,489.56 425.86,486.05 429.88,484.64" fill="#8b6914"/>
<text class="s" x="438.86" y="492.8" transform="rotate(0.03 438.86 492.8)">6:14pm</text>
<polygon points="508.91,481.25 511.49,484.64 515.52,486.05 513.09,489.56 512.99,493.82 508.91,492.60 504.82,493.82 504.72,489.56 502.30,486.05 506.32,484.64" fill="#8b6914"/>
<text class="s" x="515.31" y="492.8" transform="rotate(0.03 515.31 492.8)">6:13pm</text>
<polygon points="585.40,481.25 587.99,484.64 592.01,486.05 589.59,489.56 589.49,493.82 585.40,492.60 581.32,493.82 581.22,489.56 578.79,486.05 582.82,484.64" fill="#8b6914"/>
<text class="s" x="591.80" y="492.8" transform="rotate(0.03 591.80 492.8)">6:13pm</text>
<polygon points="661.84,481.25 664.43,484.64 668.45,486.05 666.03,489.56 665.93,493.82 661.84,492.60 657.76,493.82 657.66,489.56 655.23,486.05 659.26,484.64" fill="#8b6914"/>
<text class="s" x="668.24" y="492.8" transform="rotate(0.03 668.24 492.8)">6:12pm</text>
<circle cx="77.40" cy="502.0" r="5" fill="#ffffcc" stroke="#858585" stroke-width="0.9"/>
<text class="s" x="84.00" y="505.5" transform="rotate(0.03 84.00 505.5)">2:50am</text>
<circle cx="156.82" cy="502.0" r="5" fill="#ffffcc" stroke="#858585" stroke-width="0.9"/>
<text class="s" x="163.42" y="505.5" transform="rotate(0.03 163.42 505.5)">3:45am</text>
<circle cx="236.23" cy="502.0" r="5" fill="#ffffcc" stroke="#858585" stroke-width="0.9"/>
<text class="s" x="242.83" y="505.5" transform="rotate(0.03 242.83 505.5)">4:40am</text>
<circle cx="315.65" cy="502.0" r="5" fill="#ffffcc" stroke="#858585" stroke-width="0.9"/>
<text class="s" x="322.25" y="505.5" transform="rotate(0.03 322.25 505.5)">5:35am</text>
<circle cx="395.17" cy="502.0" r="5" fill="#ffffcc" stroke="#858585" stroke-width="0.9"/>
<text class="s" x="401.77" y="505.5" transform="rotate(0.03 401.77 505.5)">6:32am</text>
<circle cx="474.80" cy="502.0" r="5" fill="#ffffcc" stroke="#858585" stroke-width="0.9"/>
<text class="s" x="481.40" y="505.5" transform="rotate(0.03 481.40 505.5)">7:31am</text>
<circle cx="554.54" cy="502.0" r="5" fill="#ffffcc" stroke="#858585" stroke-width="0.9"/>
<text class="s" x="561.14" y="505.5" transform="rotate(0.03 561.14 505.5)">8:32am</text>
<circle cx="634.27" cy="502.0" r="5" fill="#ffffcc" stroke="#858585" stroke-width="0.9"/>
<text class="s" x="640.87" y="505.5" transform="rotate(0.03 640.87 505.5)">9:33am</text>
<circle cx="117.56" cy="515.6" r="5" fill="#c0c0b0" stroke="#858585" stroke-width="0.9"/>
<text class="s" x="124.16" y="519.8" transform="rotate(0.03 124.16 519.8)">3:26pm</text>
<circle cx="196.71" cy="515.6" r="5" fill="#c0c0b0" stroke="#858585" stroke-width="0.9"/>
<text class="s" x="203.31" y="519.8" transform="rotate(0.03 203.31 519.8)">4:16pm</text>
<circle cx="275.92" cy="515.6" r="5" fill="#c0c0b0" stroke="#858585" stroke-width="0.9"/>
<text class="s" x="282.52" y="519.8" transform="rotate(0.03 282.52 519.8)">5:07pm</text>
<circle cx="355.12" cy="515.6" r="5" fill="#c0c0b0" stroke="#858585" stroke-width="0.9"/>
<text class="s" x="361.72" y="519.8" transform="rotate(0.03 361.72 519.8)">5:58pm</text>
<circle cx="434.48" cy="515.6" r="5" fill="#c0c0b0" stroke="#858585" stroke-width="0.9"/>
<text class="s" x="441.08" y="519.8" transform="rotate(0.03 441.08 519.8)">6:52pm</text>
<circle cx="513.90" cy="515.6" r="5" fill="#c0c0b0" stroke="#858585" stroke-width="0.9"/>
<text class="s" x="520.50" y="519.8" transform="rotate(0.03 520.50 519.8)">7:47pm</text>
<circle cx="593.48" cy="515.6" r="5" fill="#c0c0b0" stroke="#858585" stroke-width="0.9"/>
<text class="s" x="600.08" y="519.8" transform="rotate(0.03 600.08 519.8)">8:45pm</text>
<circle cx="673.11" cy="515.6" r="5" fill="#c0c0b0" stroke="#858585" stroke-width="0.9"/>
<text class="s" x="679.71" y="519.8" transform="rotate(0.03 679.71 519.8)">9:44pm</text>
<text class="s" x="352.1" y="532.4" text-anchor="middle" font-size="9.4" transform="rotate(0.03 352.1 532.4)">New Moon | 7:08pm</text>
</svg></body></html>
